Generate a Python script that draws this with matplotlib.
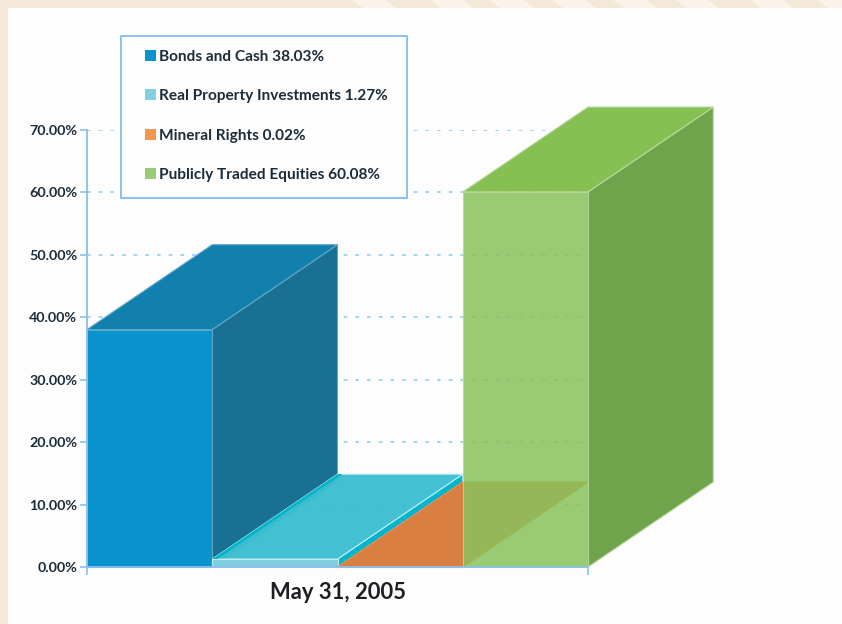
import matplotlib
matplotlib.use("Agg")
import matplotlib.pyplot as plt
from matplotlib.patches import Patch, Polygon, Rectangle
from matplotlib.ticker import FuncFormatter

W, H = 842, 624
plt.rcParams["font.family"] = ["Lato", "DejaVu Sans"]

SERIES = ["Bonds and Cash", "Real Property Investments", "Mineral Rights", "Publicly Traded Equities"]
VALUES = [38.03, 1.27, 0.02, 60.08]
Y_TICKS = [0, 10, 20, 30, 40, 50, 60, 70]
DATE_LABEL = "May 31, 2005"

# front, top, side colours and front alpha per bar
FRONT = ["#0a94cd", "#80cfe0", "#e08a4c", "#89c25b"]
TOP = ["#1280ad", "#3dbfd1", "#d97f42", "#87c052"]
SIDE = ["#1a7093", "#00b5cc", "#d97f42", "#6fa34c"]
EDGE = ["#5fa6c8", "#c5ecf2", "#e08a4c", "#b9d89e"]
ALPHA = [1, 1, 1, 0.85]
LEGEND_C = ["#0a94cd", "#80cfe0", "#f5964f", "#9bcb74"]
DEPTH_X, DEPTH_Y = 1.0, 13.6   # oblique offset of the back plane, in data units
BLUE = "#8cc0ea"
INK = "#1c2c38"


def px(x, y):
    # pixel position (top-left origin) -> figure fraction
    return x / W, 1 - y / H


def box3d(ax, i, val):
    x0, x1 = i, i + 1
    dx, dy = DEPTH_X, DEPTH_Y
    front = [(x0, 0), (x1, 0), (x1, val), (x0, val)]
    top = [(x0, val), (x1, val), (x1 + dx, val + dy), (x0 + dx, val + dy)]
    side = [(x1, 0), (x1 + dx, dy), (x1 + dx, val + dy), (x1, val)]
    # back-to-front so the nearer bars sit over the ones they overlap
    z = 3 + i
    ax.add_patch(Polygon(side, fc=SIDE[i], ec=EDGE[i], lw=0.8, zorder=z, clip_on=False))
    ax.add_patch(Polygon(top, fc=TOP[i], ec=EDGE[i], lw=0.8, zorder=z + 0.1, clip_on=False,
                         alpha=0.97 if i == 1 else 1))
    ax.add_patch(Polygon(front, fc=FRONT[i], ec=EDGE[i], lw=0.8, alpha=ALPHA[i], zorder=z + 0.2, clip_on=False))


fig = plt.figure(figsize=(W / 100, H / 100), dpi=100, facecolor="#f4e9d8")

# page behind the chart: pale diagonal stripes along the top, white panel
for s in [352, 430, 490, 552, 613, 675, 750, 818]:
    fig.add_artist(Polygon([px(s, 0), px(s + 33, 0), px(s + 44, 8), px(s + 11, 8)],
                           transform=fig.transFigure, fc="#fbf3e9", ec="none", zorder=-2))
fig.add_artist(Rectangle(px(8, H), (W - 8) / W, (H - 8) / H, transform=fig.transFigure,
                         fc="#fdfdfe", ec="none", zorder=-1))

left, bottom = px(87, 567)
ax = fig.add_axes([left, bottom, 501 / W, 437 / H], facecolor="none")
ax.set_xlim(0, len(SERIES))
ax.set_ylim(0, 70)

ax.hlines(Y_TICKS[1:], 0, len(SERIES), colors="#8fd0f2", lw=1.2, linestyles=(0, (2.2, 4.8)), zorder=1)

for i, v in enumerate(VALUES):
    box3d(ax, i, v)

# strip along the left of the cyan floor
ax.add_patch(Polygon([(1, VALUES[1]), (1 + DEPTH_X, VALUES[1] + DEPTH_Y),
                      (1.04 + DEPTH_X, VALUES[1] + DEPTH_Y), (1.04, VALUES[1])],
                     fc="#00b5cc", ec="none", zorder=4.5, clip_on=False))

ax.set_yticks(Y_TICKS)
ax.yaxis.set_major_formatter(FuncFormatter(lambda v, _: "%.2f%%" % v))
ax.set_xticks([0, len(SERIES)])
ax.set_xticklabels(["", ""])
ax.tick_params(axis="y", color=BLUE, length=5, width=1.2, labelsize=10.3, labelcolor=INK, pad=2)
ax.tick_params(axis="x", color=BLUE, length=6, width=1.2)
for lab in ax.get_yticklabels():
    lab.set_fontweight("bold")
for s in ["top", "right"]:
    ax.spines[s].set_visible(False)
for s in ["left", "bottom"]:
    ax.spines[s].set_color(BLUE)
    ax.spines[s].set_linewidth(1.3)
    ax.spines[s].set_zorder(9)
ax.set_xlabel(DATE_LABEL, fontsize=15.8, fontweight="bold", color="#1d1d22", labelpad=1)

# legend, frame drawn apart so its padding can differ per direction
x0, y0 = px(121, 198)
fig.add_artist(Rectangle((x0, y0), 286 / W, 162 / H, transform=fig.transFigure,
                         fc="#fdfdfe", ec=BLUE, lw=1.4, zorder=5))
handles = [Patch(fc=c, ec="none") for c in LEGEND_C]
labels = ["%s %.2f%%" % (n, v) for n, v in zip(SERIES, VALUES)]
leg = fig.legend(handles, labels, loc="center left", bbox_to_anchor=px(145, 116), frameon=False,
                 borderpad=0, borderaxespad=0, handlelength=0.72, handleheight=0.72, handletextpad=0.2,
                 labelspacing=1.65, prop={"size": 11.1, "weight": "bold"}, labelcolor=INK)
leg.set_zorder(6)

fig.savefig("out.png", dpi=100, facecolor=fig.get_facecolor())
